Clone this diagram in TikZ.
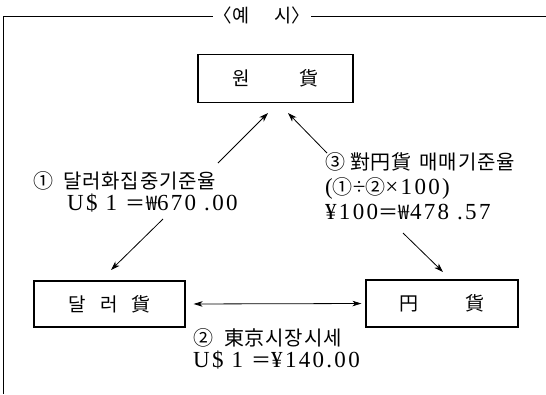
\documentclass[tikz,border=0pt]{standalone}
\usepackage{fontspec}
\setmainfont[LetterSpace=10]{Liberation Serif}
\newfontfamily\kr[LetterSpace=4]{Noto Sans CJK KR}
\usetikzlibrary{arrows.meta}
\newcommand{\latA}{\fontsize{23}{22}\selectfont}
\newcommand{\latB}{\fontsize{23}{25}\selectfont}
\newcommand{\hg}[1]{{\kr\fontsize{20}{22}\selectfont #1}}
\begin{document}
\begin{tikzpicture}[x=1pt,y=-1pt,
  box/.style={draw, line width=1.1pt, inner sep=0pt, font=\kr\fontsize{19}{20}\selectfont},
  lab/.style={align=left, inner sep=0pt, anchor=north west},
  arr/.style={line width=0.8pt, -{Stealth[length=9pt,width=6pt,inset=2.5pt]}},
  dbl/.style={line width=0.8pt, {Stealth[length=9pt,width=5.5pt,inset=2.5pt]}-{Stealth[length=9pt,width=5.5pt,inset=2.5pt]}},
  frame/.style={line width=0.9pt}]
\useasboundingbox (0,0) rectangle (546,394);
\draw[frame] (546,16) -- (3,16) -- (3,394);
\node[fill=white, inner xsep=1pt, inner ysep=1pt, font=\kr\fontsize{18.5}{19}\selectfont] (title) at (262,15) {〈예\hspace{1.3em}시〉};

\node[box, minimum width=155pt, minimum height=48pt] (won) at (275.5,78.5) {원\hspace{2.6em}貨};
\node[box, minimum width=151pt, minimum height=46pt] (dol) at (109.5,304) {달\hspace{0.75em}러\hspace{0.75em}貨};
\node[box, minimum width=152pt, minimum height=47pt] (yen) at (442,303.5) {円\hspace{2.5em}貨};

\node[lab, font=\latA] (lab1) at (33,171)
  {\hg{①\hspace{10pt}달러화집중기준율}\\ \hspace*{34pt}U\$ 1 \hg{＝₩}670 .00};
\node[lab, font=\latB] (lab3) at (325,152)
  {\hg{③\hspace{5pt}對円貨\hspace{8pt}매매기준율}\\ (\hg{①}÷\hg{②}×100)\\ ¥100\hg{＝₩}478 .57};
\node[lab, font=\latA] (lab2) at (193,328)
  {\hg{②\hspace{11pt}東京시장시세}\\ U\$ 1 \hg{＝}¥140.00};

\coordinate (a1t) at (218,163);
\coordinate (a1h) at (268,113);
\coordinate (a3t) at (327,153);
\coordinate (a3h) at (288,113);
\coordinate (b1t) at (163,219);
\coordinate (b1h) at (111,270);
\coordinate (b3t) at (403,233);
\coordinate (b3h) at (443,272);
\draw[arr] (a1t) -- (a1h);
\draw[arr] (a3t) -- (a3h);
\draw[arr] (b1t) -- (b1h);
\draw[arr] (b3t) -- (b3h);
\draw[dbl, shorten <=8pt, shorten >=4pt] (dol.east) -- (yen.west);
\end{tikzpicture}
\end{document}
